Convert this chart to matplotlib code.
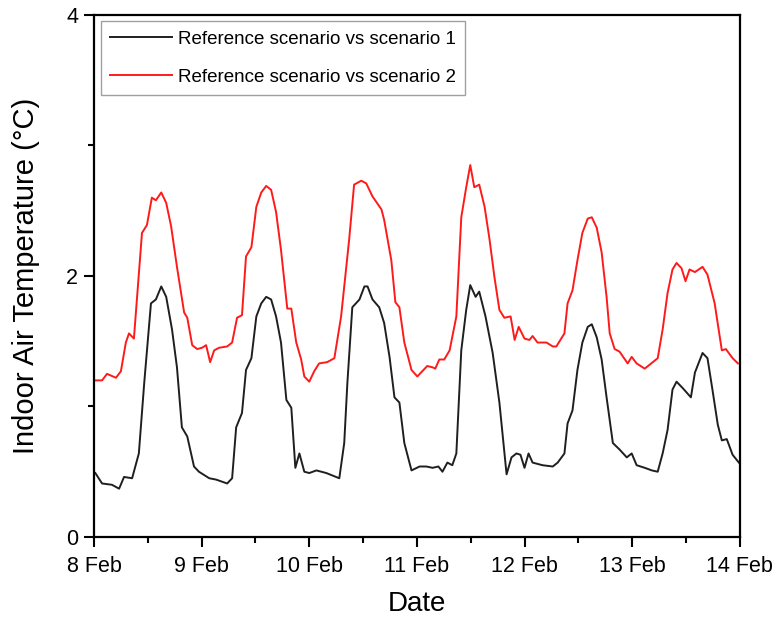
import matplotlib.pyplot as plt
import numpy as np
from matplotlib.ticker import MultipleLocator

plt.rcParams['font.family'] = ['Liberation Sans', 'DejaVu Sans']

# hours since 8 Feb 00:00
hours_s1 = [0.3, 1.8, 4.0, 5.6, 6.7, 8.5, 10.0, 11.2, 12.7, 13.8,
            15.0, 16.1, 17.4, 18.5, 19.6, 20.8, 22.3, 23.4, 25.7, 27.2,
            29.7, 30.8, 31.7, 33.0, 33.9, 35.1, 36.2, 37.3, 38.4, 39.5,
            40.6, 41.7, 42.9, 44.0, 44.9, 45.8, 46.9, 48.0, 49.6, 51.8,
            54.7, 55.8, 56.5, 57.6, 59.2, 60.3, 61.0, 62.1, 63.6, 64.7,
            65.9, 67.0, 68.1, 69.2, 70.8, 72.6, 74.1, 75.5, 76.8, 77.7,
            78.8, 79.9, 80.8, 81.9, 83.0, 83.9, 85.1, 85.9, 87.3, 88.9,
            90.4, 92.0, 93.1, 94.2, 95.1, 96.0, 96.9, 97.8, 100.0, 102.3,
            103.4, 104.9, 105.6, 106.7, 107.8, 108.9, 110.1, 111.0, 112.1, 113.2,
            114.3, 115.7, 117.2, 118.8, 119.9, 121.0, 122.8, 124.4, 125.7, 126.8,
            127.9, 129.0, 129.9, 131.3, 133.1, 134.0, 135.7, 136.8, 137.9, 139.1,
            140.0, 141.1, 142.4, 143.8]
temp_s1 = [0.49, 0.41, 0.40, 0.37, 0.46, 0.45, 0.64, 1.18, 1.79, 1.82,
           1.92, 1.84, 1.59, 1.30, 0.84, 0.77, 0.54, 0.50, 0.45, 0.44,
           0.41, 0.45, 0.84, 0.95, 1.28, 1.37, 1.69, 1.79, 1.84, 1.82,
           1.69, 1.49, 1.05, 0.99, 0.53, 0.64, 0.50, 0.49, 0.51, 0.49,
           0.45, 0.72, 1.18, 1.76, 1.82, 1.92, 1.92, 1.82, 1.76, 1.64,
           1.38, 1.07, 1.03, 0.72, 0.51, 0.54, 0.54, 0.53, 0.54, 0.50,
           0.57, 0.55, 0.64, 1.43, 1.74, 1.93, 1.84, 1.88, 1.69, 1.41,
           1.03, 0.48, 0.61, 0.64, 0.63, 0.53, 0.64, 0.57, 0.55, 0.54,
           0.57, 0.64, 0.87, 0.97, 1.28, 1.49, 1.61, 1.63, 1.53, 1.36,
           1.07, 0.72, 0.67, 0.61, 0.64, 0.55, 0.53, 0.51, 0.50, 0.64,
           0.82, 1.13, 1.19, 1.14, 1.07, 1.26, 1.41, 1.37, 1.13, 0.86,
           0.74, 0.75, 0.63, 0.57]

hours_s2 = [0.3, 1.8, 2.9, 4.9, 6.0, 7.1, 7.8, 8.9, 10.7, 11.8,
            12.9, 13.8, 15.0, 16.1, 17.2, 18.5, 20.1, 20.8, 21.9, 23.0,
            24.1, 25.0, 25.9, 26.8, 27.9, 29.7, 30.8, 31.9, 33.0, 33.9,
            35.1, 36.2, 37.3, 38.4, 39.5, 40.6, 41.7, 43.1, 44.0, 45.1,
            46.2, 46.9, 48.0, 49.1, 50.2, 52.0, 53.6, 55.1, 56.9, 58.0,
            59.6, 60.7, 62.1, 64.1, 64.7, 66.3, 67.2, 68.1, 69.2, 70.8,
            72.1, 73.2, 74.3, 75.5, 76.1, 77.0, 78.1, 79.3, 80.8, 81.9,
            83.0, 83.9, 84.8, 85.9, 87.1, 88.2, 89.3, 90.4, 91.5, 92.9,
            93.8, 94.7, 96.0, 97.1, 97.8, 98.9, 100.9, 102.3, 103.1, 104.9,
            105.6, 106.7, 107.8, 108.9, 110.1, 111.0, 112.1, 113.2, 114.3, 115.0,
            116.1, 117.2, 119.0, 119.9, 121.0, 122.8, 123.9, 125.7, 126.8, 127.9,
            129.0, 129.9, 131.0, 131.9, 132.8, 134.0, 135.7, 136.8, 138.4, 140.0,
            140.9, 142.4, 143.6]
temp_s2 = [1.20, 1.20, 1.25, 1.22, 1.27, 1.49, 1.56, 1.52, 2.33, 2.39,
           2.60, 2.58, 2.64, 2.56, 2.38, 2.07, 1.72, 1.68, 1.47, 1.44,
           1.45, 1.47, 1.34, 1.43, 1.45, 1.46, 1.49, 1.68, 1.70, 2.15,
           2.22, 2.53, 2.64, 2.69, 2.66, 2.49, 2.20, 1.75, 1.75, 1.49,
           1.36, 1.23, 1.19, 1.27, 1.33, 1.34, 1.37, 1.69, 2.28, 2.70,
           2.73, 2.71, 2.61, 2.51, 2.43, 2.12, 1.80, 1.76, 1.49, 1.28,
           1.23, 1.27, 1.31, 1.30, 1.29, 1.36, 1.36, 1.43, 1.69, 2.45,
           2.68, 2.85, 2.68, 2.70, 2.53, 2.28, 1.99, 1.74, 1.68, 1.69,
           1.51, 1.61, 1.52, 1.51, 1.54, 1.49, 1.49, 1.46, 1.46, 1.56,
           1.79, 1.89, 2.12, 2.33, 2.44, 2.45, 2.37, 2.18, 1.84, 1.56,
           1.44, 1.42, 1.33, 1.38, 1.33, 1.29, 1.32, 1.37, 1.59, 1.87,
           2.05, 2.10, 2.06, 1.96, 2.05, 2.03, 2.07, 2.01, 1.79, 1.43,
           1.44, 1.37, 1.33]

day_labels = ['8 Feb', '9 Feb', '10 Feb', '11 Feb', '12 Feb', '13 Feb', '14 Feb']
series_labels = ['Reference scenario vs scenario 1', 'Reference scenario vs scenario 2']

fig = plt.figure(figsize=(7.82, 6.17), dpi=100)
ax = fig.add_axes([0.1202, 0.1297, 0.8258, 0.846])

ax.plot(np.array(hours_s1) / 24, temp_s1, color='#1f1f1f', lw=1.4, label=series_labels[0])
ax.plot(np.array(hours_s2) / 24, temp_s2, color='#ff1a1a', lw=1.4, label=series_labels[1])

ax.set_xlim(0, 6)
ax.set_ylim(0, 4)
ax.set_xticks(range(len(day_labels)))
ax.set_xticklabels(day_labels)
ax.xaxis.set_minor_locator(MultipleLocator(0.5))
ax.set_yticks([0, 2, 4])
ax.yaxis.set_minor_locator(MultipleLocator(1))
ax.tick_params(which='major', direction='out', length=7.5, width=1.5, labelsize=15.5, pad=4)
ax.tick_params(axis='x', which='major', pad=6)
ax.tick_params(which='minor', direction='out', length=4, width=1.5)
for s in ax.spines.values():
    s.set_linewidth(1.6)

ax.set_xlabel('Date', fontsize=20, labelpad=10)
ax.set_ylabel('Indoor Air Temperature (°C)', fontsize=21, labelpad=19)

leg = ax.legend(loc='upper left', bbox_to_anchor=(0.011, 0.988), borderaxespad=0,
                fontsize=13.5, frameon=True, fancybox=False, handlelength=3.3,
                handletextpad=0.3, labelspacing=1.1, borderpad=0.5)
leg.get_frame().set_edgecolor('#888888')
leg.get_frame().set_linewidth(1.0)

plt.savefig('out.png', dpi=100)
